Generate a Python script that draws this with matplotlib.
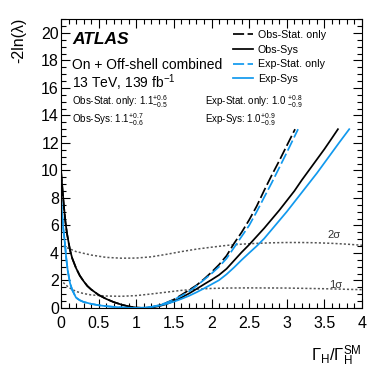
import numpy as np
import matplotlib
matplotlib.use("Agg")
import matplotlib.pyplot as plt
from matplotlib.ticker import MultipleLocator

plt.rcParams["font.family"] = ["Liberation Sans", "DejaVu Sans"]
plt.rcParams["mathtext.fontset"] = "custom"
plt.rcParams["mathtext.rm"] = "Liberation Sans"
plt.rcParams["mathtext.it"] = "Liberation Sans:italic"
plt.rcParams["mathtext.bf"] = "Liberation Sans:bold"
plt.rcParams["lines.scale_dashes"] = False

# --- data ---
# left branch (below the minimum), shared by stat-only and sys curves
obs_left_x = [0.0, 0.01, 0.02, 0.04, 0.06, 0.08, 0.10, 0.12, 0.15, 0.20, 0.25,
              0.30, 0.35, 0.40, 0.50, 0.60, 0.70, 0.80, 0.90, 1.00]
obs_left_y = [10.0, 9.3, 8.6, 7.3, 6.2, 5.4, 4.8, 4.2, 3.6, 2.9, 2.35,
              1.95, 1.6, 1.35, 0.95, 0.66, 0.43, 0.25, 0.11, 0.03]
exp_left_x = [0.0, 0.01, 0.02, 0.03, 0.05, 0.07, 0.09, 0.12, 0.15, 0.20, 0.25,
              0.30, 0.40, 0.50, 0.60, 0.70, 0.80, 0.90]
exp_left_y = [8.0, 7.2, 6.5, 5.8, 4.8, 3.6, 2.7, 1.8, 1.3, 0.75, 0.56,
              0.44, 0.30, 0.20, 0.13, 0.08, 0.04, 0.01]

# right branches
obs_sys_x = [1.1, 1.2, 1.3, 1.4, 1.5, 1.6, 1.7, 1.8, 1.9, 2.0, 2.1, 2.2, 2.3, 2.4,
             2.5, 2.6, 2.7, 2.8, 2.9, 3.0, 3.1, 3.2, 3.3, 3.4, 3.5, 3.6, 3.68]
obs_sys_y = [0.0, 0.04, 0.13, 0.28, 0.5, 0.76, 1.05, 1.38, 1.72, 2.05, 2.4, 2.85, 3.45, 4.05,
             4.6, 5.2, 5.8, 6.45, 7.1, 7.8, 8.5, 9.3, 10.05, 10.8, 11.55, 12.35, 13.0]
obs_stat_x = [1.1, 1.2, 1.3, 1.4, 1.5, 1.6, 1.7, 1.8, 1.9, 2.0, 2.1, 2.2, 2.3, 2.4,
              2.5, 2.6, 2.7, 2.8, 2.9, 3.0, 3.11]
obs_stat_y = [0.0, 0.05, 0.18, 0.38, 0.62, 0.95, 1.3, 1.65, 2.1, 2.6, 3.15, 3.8, 4.7, 5.5,
              6.4, 7.4, 8.55, 9.65, 10.7, 11.8, 13.0]
exp_sys_x = [1.0, 1.1, 1.2, 1.3, 1.4, 1.5, 1.6, 1.7, 1.8, 1.9, 2.0, 2.1, 2.2, 2.3, 2.4,
             2.5, 2.6, 2.7, 2.8, 2.9, 3.0, 3.1, 3.2, 3.3, 3.4, 3.5, 3.6, 3.7, 3.83]
exp_sys_y = [0.0, 0.02, 0.07, 0.17, 0.3, 0.46, 0.66, 0.88, 1.14, 1.42, 1.72, 2.02, 2.45, 2.95, 3.49,
             4.0, 4.5, 5.05, 5.7, 6.35, 7.0, 7.7, 8.4, 9.1, 9.8, 10.55, 11.3, 12.05, 13.0]
exp_stat_x = [1.0, 1.1, 1.2, 1.3, 1.4, 1.5, 1.6, 1.7, 1.8, 1.9, 2.0, 2.1, 2.2, 2.3, 2.4,
              2.5, 2.6, 2.7, 2.8, 2.9, 3.0, 3.15]
exp_stat_y = [0.0, 0.02, 0.08, 0.2, 0.38, 0.6, 0.88, 1.2, 1.6, 2.05, 2.5, 3.0, 3.6, 4.4, 5.2,
              6.0, 7.0, 8.05, 9.1, 10.2, 11.3, 13.0]

# threshold lines
sig2_x = [0.03, 0.2, 0.4, 0.6, 0.8, 1.0, 1.2, 1.4, 1.6, 1.8, 2.0, 2.2, 2.4, 2.6,
          2.8, 3.0, 3.2, 3.4, 3.6, 3.8, 4.0]
sig2_y = [4.5, 4.1, 3.85, 3.68, 3.62, 3.63, 3.72, 3.9, 4.1, 4.28, 4.42, 4.55, 4.64, 4.7,
          4.74, 4.76, 4.76, 4.74, 4.7, 4.64, 4.56]
sig1_x = [0.03, 0.1, 0.2, 0.3, 0.4, 0.6, 0.8, 1.0, 1.2, 1.4, 1.6, 1.8, 2.0, 2.2,
          2.5, 3.0, 3.5, 4.0]
sig1_y = [1.85, 1.5, 1.2, 1.05, 0.95, 0.87, 0.85, 0.9, 1.02, 1.15, 1.28, 1.37, 1.42, 1.45,
          1.46, 1.45, 1.4, 1.33]

labels = ["Obs-Stat. only", "Obs-Sys", "Exp-Stat. only", "Exp-Sys"]
BLUE = "#1199ee"

fig = plt.figure(figsize=(3.82, 3.67), dpi=100)
ax = fig.add_axes([0.1597, 0.1608, 0.788, 0.787])

ax.plot(sig2_x, sig2_y, color="#555555", lw=1.1, ls=(0, (1.5, 1.5)))
ax.plot(sig1_x, sig1_y, color="#555555", lw=1.1, ls=(0, (1.5, 1.5)))

ax.plot(obs_left_x + obs_stat_x, obs_left_y + obs_stat_y, color="black", lw=1.25,
        ls=(0, (8, 2.5)), label=labels[0])
ax.plot(obs_left_x + obs_sys_x, obs_left_y + obs_sys_y, color="black", lw=1.25,
        label=labels[1])
ax.plot(exp_left_x + exp_stat_x, exp_left_y + exp_stat_y, color=BLUE, lw=1.25,
        ls=(0, (8, 2.5)), label=labels[2])
ax.plot(exp_left_x + exp_sys_x, exp_left_y + exp_sys_y, color=BLUE, lw=1.25,
        label=labels[3])

ax.set_xlim(0, 4)
ax.set_ylim(0, 21)
ax.xaxis.set_major_locator(MultipleLocator(0.5))
ax.xaxis.set_minor_locator(MultipleLocator(0.1))
ax.yaxis.set_major_locator(MultipleLocator(2))
ax.yaxis.set_minor_locator(MultipleLocator(0.5))
ax.tick_params(which="both", direction="in", top=True, right=True, labelsize=11.5)
ax.tick_params(which="major", length=6.5, width=0.8)
ax.tick_params(which="minor", length=3.3, width=0.8)
ax.tick_params(axis="x", pad=5.5)
ax.tick_params(axis="y", pad=1.5)
ax.set_xticks([0, 0.5, 1, 1.5, 2, 2.5, 3, 3.5, 4])
ax.set_xticklabels(["0", "0.5", "1", "1.5", "2", "2.5", "3", "3.5", "4"])

ax.text(1.0, -0.165, r"$\Gamma_{\mathrm{H}}/\Gamma_{\mathrm{H}}^{\mathrm{SM}}$",
        transform=ax.transAxes, ha="right", va="center", fontsize=12)
ax.text(-0.141, 1.007, "-2ln(λ)", transform=ax.transAxes, rotation=90,
        ha="center", va="top", fontsize=11.5)

ax.text(0.15, 19.5, "ATLAS", fontsize=12.5, fontweight="bold", fontstyle="italic",
        va="center")
ax.text(0.15, 17.7, "On + Off-shell combined", fontsize=10, va="center")
ax.text(0.15, 16.4, r"13 TeV, 139 fb$^{-1}$", fontsize=10, va="center")
ax.text(0.15, 15.0, r"Obs-Stat. only: 1.1$^{+0.6}_{-0.5}$", fontsize=7, va="center")
ax.text(0.15, 13.7, r"Obs-Sys: 1.1$^{+0.7}_{-0.6}$", fontsize=7, va="center")
ax.text(1.91, 15.0, r"Exp-Stat. only: 1.0 $^{+0.8}_{-0.9}$", fontsize=7, va="center")
ax.text(1.91, 13.7, r"Exp-Sys: 1.0$^{+0.9}_{-0.9}$", fontsize=7, va="center")

ax.text(3.63, 5.3, "2σ", fontsize=8, color="#333333", ha="center", va="center")
ax.text(3.65, 1.65, "1σ", fontsize=8, color="#333333", ha="center", va="center")

ax.legend(loc="upper left", bbox_to_anchor=(0.571, 0.962), frameon=False,
          fontsize=7.7, handlelength=1.87, handletextpad=0.47, labelspacing=0.43,
          borderpad=0, borderaxespad=0)

fig.savefig("out.png", dpi=100)
